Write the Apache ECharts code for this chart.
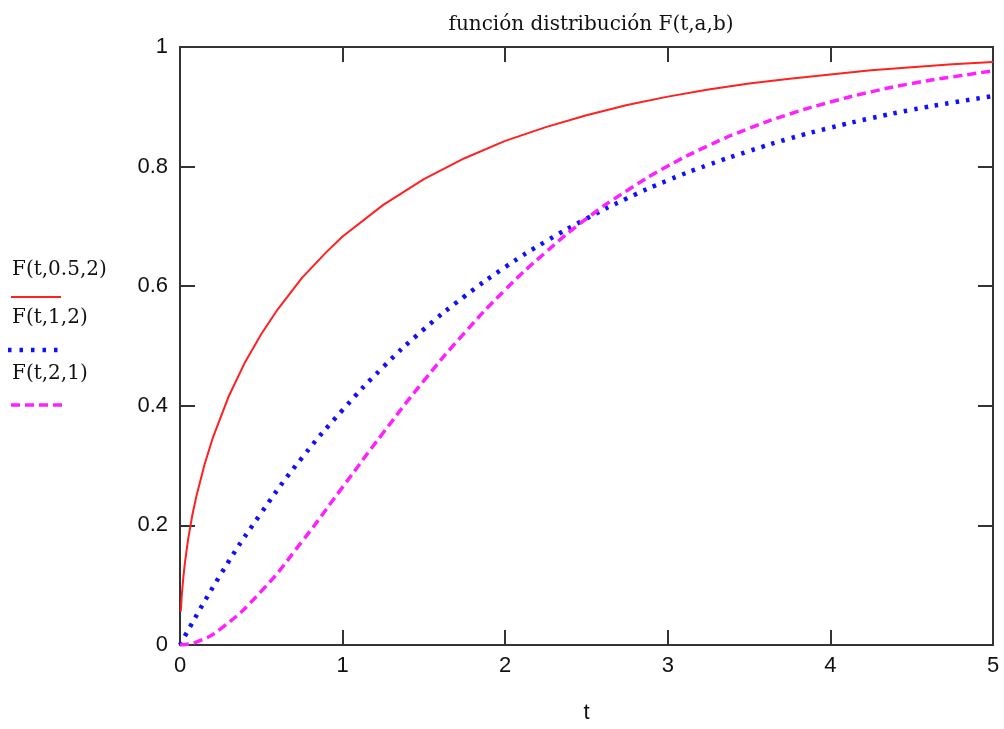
<!DOCTYPE html>
<html>
<head>
<meta charset="utf-8">
<script src="https://cdn.jsdelivr.net/npm/echarts@6/dist/echarts.min.js"></script>
<style>
html,body{margin:0;padding:0;background:#fff;}
#chart{width:1004px;height:729px;}
</style>
</head>
<body>
<div id="chart"></div>
<script>
// Title and labels
var titleText = "función distribución F(t,a,b)";
var xName = "t";
var seriesNames = ["F(t,0.5,2)", "F(t,1,2)", "F(t,2,1)"];

// F(t,0.5,2) - red solid
var tRed = [0.005, 0.01, 0.02, 0.03, 0.05, 0.075, 0.1, 0.15, 0.2, 0.3, 0.4, 0.5, 0.6, 0.75, 0.9, 1, 1.25, 1.5, 1.75, 2, 2.25, 2.5, 2.75, 3, 3.25, 3.5, 3.75, 4, 4.25, 4.5, 4.75, 5];
var fRed = [0.056, 0.080, 0.112, 0.137, 0.177, 0.216, 0.248, 0.301, 0.345, 0.416, 0.473, 0.520, 0.561, 0.614, 0.657, 0.683, 0.736, 0.779, 0.814, 0.843, 0.866, 0.886, 0.903, 0.917, 0.929, 0.939, 0.947, 0.954, 0.961, 0.966, 0.971, 0.975];

// F(t,1,2) - blue dotted
var tBlue = [0, 0.25, 0.5, 0.75, 1, 1.25, 1.5, 1.75, 2, 2.25, 2.5, 2.75, 3, 3.25, 3.5, 3.75, 4, 4.25, 4.5, 4.75, 5];
var fBlue = [0, 0.118, 0.221, 0.313, 0.393, 0.465, 0.528, 0.583, 0.632, 0.675, 0.713, 0.747, 0.777, 0.803, 0.826, 0.847, 0.865, 0.881, 0.895, 0.907, 0.918];

// F(t,2,1) - magenta dashed
var tPink = [0, 0.1, 0.25, 0.5, 0.75, 1, 1.25, 1.5, 1.75, 2, 2.25, 2.5, 2.75, 3, 3.25, 3.5, 3.75, 4, 4.25, 4.5, 4.75, 5];
var fPink = [0, 0.005, 0.027, 0.090, 0.173, 0.264, 0.355, 0.442, 0.522, 0.594, 0.657, 0.713, 0.760, 0.801, 0.835, 0.864, 0.888, 0.908, 0.925, 0.939, 0.950, 0.960];

function pairs(t, f) { return t.map(function (v, i) { return [v, f[i]]; }); }

var chart = echarts.init(document.getElementById('chart'), null, {renderer: 'canvas'});

var axisColor = '#333333';
var labelFont = {color: '#111', fontFamily: 'Liberation Sans', fontSize: 22};

var baseX = {
  type: 'value', min: 0, max: 5, interval: 1,
  axisLine: {show: true, onZero: false, lineStyle: {color: axisColor, width: 2}},
  axisTick: {show: true, inside: true, length: 15, lineStyle: {color: axisColor, width: 2}},
  splitLine: {show: false}
};
var baseY = {
  type: 'value', min: 0, max: 1, interval: 0.2,
  axisLine: {show: true, onZero: false, lineStyle: {color: axisColor, width: 2}},
  axisTick: {show: true, inside: true, length: 15, lineStyle: {color: axisColor, width: 2}},
  splitLine: {show: false}
};

var option = {
  backgroundColor: '#ffffff',
  animation: false,
  title: {
    text: titleText, left: 586, top: 10, textAlign: 'center',
    textStyle: {fontFamily: 'DejaVu Serif', fontWeight: 'normal', fontSize: 20, color: '#111'}
  },
  grid: {left: 180, right: 11, top: 47, bottom: 74, containLabel: false},
  xAxis: [
    Object.assign({}, baseX, {
      position: 'bottom',
      axisLabel: Object.assign({margin: 10}, labelFont),
      name: xName, nameLocation: 'middle', nameGap: 57,
      nameTextStyle: {color: '#111', fontFamily: 'Liberation Sans', fontSize: 22}
    }),
    Object.assign({}, baseX, {position: 'top', axisLabel: {show: false}})
  ],
  yAxis: [
    Object.assign({}, baseY, {position: 'left', axisLabel: Object.assign({margin: 12}, labelFont)}),
    Object.assign({}, baseY, {position: 'right', axisLabel: {show: false}})
  ],
  series: [
    {
      name: seriesNames[0], type: 'line', data: pairs(tRed, fRed), showSymbol: false,
      smooth: false, lineStyle: {color: '#ff2020', width: 2}
    },
    {
      name: seriesNames[1], type: 'line', data: pairs(tBlue, fBlue), showSymbol: false,
      smooth: true, lineStyle: {color: '#1010ff', width: 4.5, type: [3.5, 7]}
    },
    {
      name: seriesNames[2], type: 'line', data: pairs(tPink, fPink), showSymbol: false,
      smooth: true, lineStyle: {color: '#ff20ff', width: 3.5, type: [9, 5]}
    }
  ],
  graphic: [
    {type: 'text', left: 12, top: 260, style: {text: seriesNames[0], fontFamily: 'DejaVu Serif', fontSize: 20, fill: '#111'}},
    {type: 'line', shape: {x1: 11, y1: 297, x2: 61, y2: 297}, style: {stroke: '#ff2020', lineWidth: 2}},
    {type: 'text', left: 12, top: 308, style: {text: seriesNames[1], fontFamily: 'DejaVu Serif', fontSize: 20, fill: '#111'}},
    {type: 'line', shape: {x1: 8, y1: 350, x2: 64, y2: 350}, style: {stroke: '#1010ff', lineWidth: 4.5, lineDash: [3.5, 8]}},
    {type: 'text', left: 12, top: 364, style: {text: seriesNames[2], fontFamily: 'DejaVu Serif', fontSize: 20, fill: '#111'}},
    {type: 'line', shape: {x1: 11, y1: 405, x2: 64, y2: 405}, style: {stroke: '#ff20ff', lineWidth: 3.5, lineDash: [9, 5]}}
  ]
};
chart.setOption(option);
</script>
</body>
</html>
